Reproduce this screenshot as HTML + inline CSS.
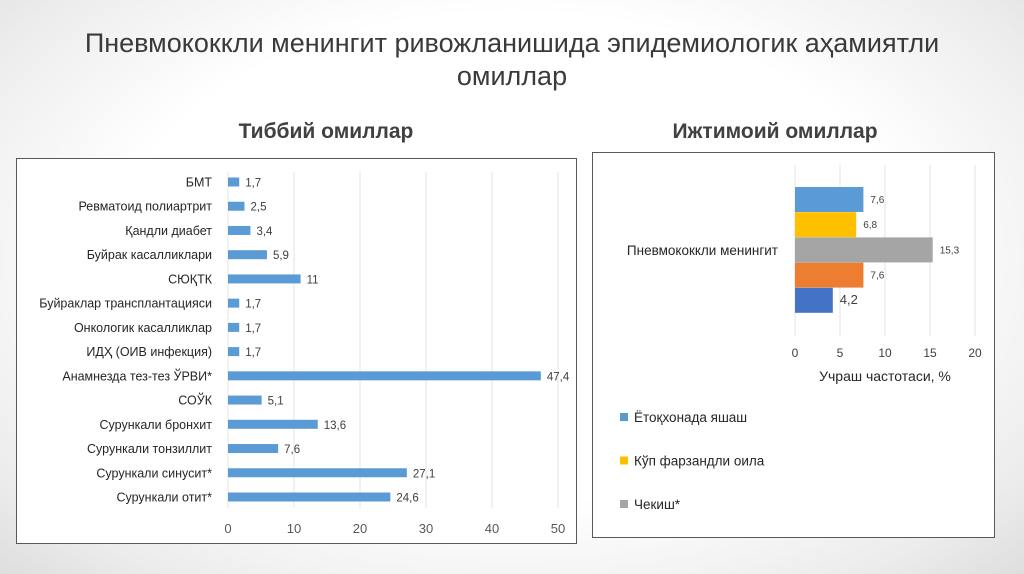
<!DOCTYPE html>
<html><head><meta charset="utf-8"><style>
html,body{margin:0;padding:0}
body{width:1024px;height:574px;overflow:hidden;position:relative;font-family:"Liberation Sans","DejaVu Sans",sans-serif;background:radial-gradient(ellipse at 50% 45%,#ffffff 55%,#ececec 85%,#dedede 100%)}
.t{position:absolute;left:0;width:1024px;text-align:center;color:#3a3a3a;font-size:27px}
.box{position:absolute;background:#fff;border:1.5px solid #595959}
svg text{font-family:"Liberation Sans","DejaVu Sans",sans-serif}
</style></head><body>
<div class="t" style="top:27px;line-height:33px">Пневмококкли менингит ривожланишида эпидемиологик аҳамиятли<br>омиллар</div>
<div style="position:absolute;left:176px;width:300px;top:120px;text-align:center;font-size:21px;font-weight:bold;color:#404040">Тиббий омиллар</div>
<div style="position:absolute;left:625px;width:300px;top:120px;text-align:center;font-size:21px;font-weight:bold;color:#404040">Ижтимоий омиллар</div>
<div class="box" style="left:16px;top:158px;width:559px;height:384px"></div>
<div class="box" style="left:592px;top:152px;width:401px;height:384px"></div>
<svg id="s" width="1024" height="574" style="position:absolute;left:0;top:0"></svg>
<script>
const cats=["БМТ","Ревматоид полиартрит","Қандли диабет","Буйрак касалликлари","СЮҚТК","Буйраклар трансплантацияси","Онкологик касалликлар","ИДҲ (ОИВ инфекция)","Анамнезда тез-тез ЎРВИ*","СОЎК","Сурункали бронхит","Сурункали тонзиллит","Сурункали синусит*","Сурункали отит*"];
const vals=[1.7,2.5,3.4,5.9,11,1.7,1.7,1.7,47.4,5.1,13.6,7.6,27.1,24.6];
const ticksL=[0,10,20,30,40,50];
const socNames=["Ётоқхонада яшаш","Кўп фарзандли оила","Чекиш*","",""];
const socVals=[7.6,6.8,15.3,7.6,4.2];
const socColors=["#5b9bd5","#ffc000","#a5a5a5","#ed7d31","#4472c4"];
const ticksR=[0,5,10,15,20];
const s=document.getElementById('s');
function el(t,a,txt){const e=document.createElementNS('http://www.w3.org/2000/svg',t);for(const k in a)e.setAttribute(k,a[k]);if(txt!==undefined)e.textContent=txt;s.appendChild(e);return e;}
const fmt=v=>String(v).replace('.',',');
// left
const xL=v=>228+v*6.6, yL=i=>182+i*24.23;
ticksL.forEach(t=>{const g=el('line',{x1:xL(t),x2:xL(t),y1:172,y2:508,stroke:'#e3e3e3','stroke-width':1});

const l=el('text',{x:xL(t),y:533,'text-anchor':'middle','font-size':13,fill:'#595959'},t);
});
cats.forEach((c,i)=>{const y=yL(i);
const r=el('rect',{x:xL(0),y:y-4.5,width:xL(vals[i])-xL(0),height:9,fill:'#5b9bd5'});

const lb=el('text',{x:212,y:y+4.5,'text-anchor':'end','font-size':12.5,fill:'#262626'},c);

const v=el('text',{x:xL(vals[i])+6,y:y+4.5,'font-size':11.5,fill:'#404040'},fmt(vals[i]));
});
// right
const xR=v=>795+v*9, yR=i=>187+i*25.2;
ticksR.forEach(t=>{const g=el('line',{x1:xR(t),x2:xR(t),y1:165,y2:336,stroke:'#e3e3e3','stroke-width':1});

const l=el('text',{x:xR(t),y:357,'text-anchor':'middle','font-size':12,fill:'#404040'},t);
});
socVals.forEach((v,i)=>{const r=el('rect',{x:xR(0),y:yR(i),width:xR(v)-xR(0),height:25,fill:socColors[i]});

const t=el('text',{x:xR(v)+7,y:yR(i)+16,'font-size':i==4?13:10,fill:'#404040'},fmt(v));
});
const cl=el('text',{x:778,y:255,'text-anchor':'end','font-size':13.5,fill:'#262626'},'Пневмококкли менингит');

const at=el('text',{x:885,y:381,'text-anchor':'middle','font-size':14,fill:'#262626'},'Учраш частотаси, %');

[0,1,2].forEach(i=>{const y=419+i*43.5;
const q=el('rect',{x:620,y:y-6,width:8,height:8,fill:socColors[i]});

const t=el('text',{x:634,y:y+3,'font-size':13.5,fill:'#262626'},socNames[i]);
});
</script>
</body></html>
